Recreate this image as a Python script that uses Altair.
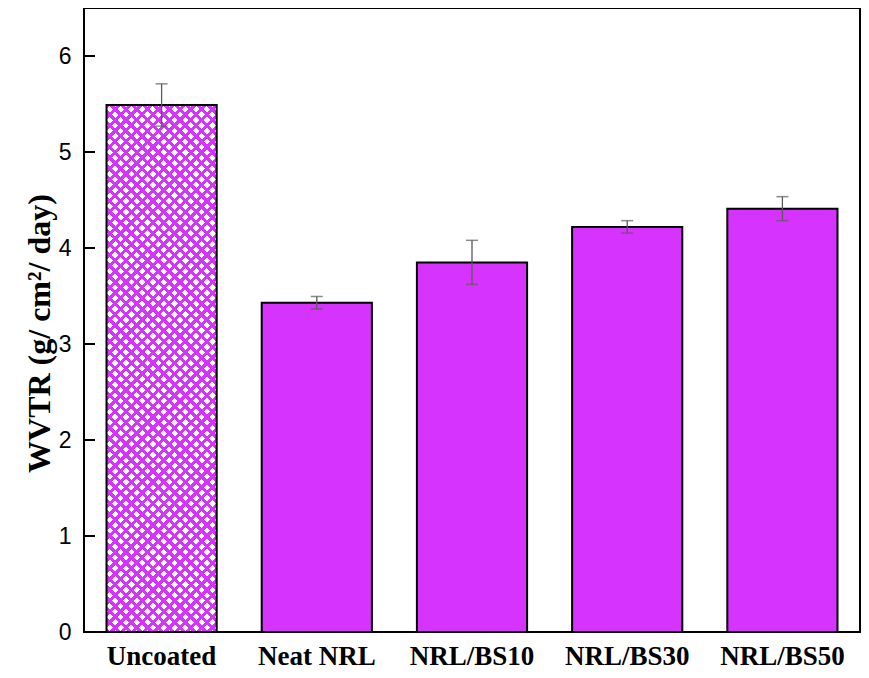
import altair as alt
import pandas as pd

categories = ["Uncoated", "Neat NRL", "NRL/BS10", "NRL/BS30", "NRL/BS50"]
wvtr = [5.49, 3.43, 3.85, 4.22, 4.41]
err = [0.22, 0.065, 0.23, 0.065, 0.125]
y_ticks = [0, 1, 2, 3, 4, 5, 6]

df = pd.DataFrame({"cat": categories, "wvtr": wvtr, "err": err})
df["lo"] = df["wvtr"] - df["err"]
df["hi"] = df["wvtr"] + df["err"]
ticks_df = pd.DataFrame({"v": y_ticks})

W, H = 776, 624
PI, PO = 0.29, 0.145
YMAX = 6.5
MAG = "#D633FF"
CLEAR = "rgba(255,255,255,0)"
YTITLE = "WVTR (g/ cm²/ day)"

# hatch pattern (style) for the uncoated bar, built as striped linear gradients
step = W / (len(categories) - PI + 2 * PO)
bw = step * (1 - PI)
bh = wvtr[0] / YMAX * H
PERIOD = 7.6
FRAC = 0.4


def hatch(direction):
    w, h = bw, bh
    p = w / h
    k = (w + h) * h / (h * h + w * w)
    if direction > 0:
        x1, y1, x2, y2 = 0, 0, p * k, k
    else:
        x1, y1, x2, y2 = 0, 1, p * k, 1 - k
    span = (w + h) / 2 ** 0.5
    n = int(round(span / PERIOD))
    stops = []
    for i in range(n):
        a = i / n
        b = (i + FRAC) / n
        c = (i + 1) / n
        stops += [
            {"offset": a, "color": MAG},
            {"offset": b, "color": MAG},
            {"offset": b, "color": CLEAR},
            {"offset": c, "color": CLEAR},
        ]
    return {"gradient": "linear", "x1": x1, "y1": y1, "x2": x2, "y2": y2, "stops": stops}


xscale = alt.Scale(paddingInner=PI, paddingOuter=PO)
xaxis = alt.Axis(
    title=None,
    labelFont="Liberation Serif",
    labelFontWeight="bold",
    labelFontSize=27,
    labelColor="black",
    labelAngle=0,
    ticks=False,
    domain=False,
    labelPadding=32,
    labelBaseline="alphabetic",
)
yscale = alt.Scale(domain=[0, YMAX], nice=False, zero=True)
yaxis = alt.Axis(
    title=YTITLE,
    values=y_ticks,
    format="d",
    grid=False,
    ticks=False,
    domain=False,
    labelFont="Liberation Sans",
    labelFontSize=23,
    labelColor="black",
    labelPadding=13,
    titleFont="Liberation Serif",
    titleFontWeight="bold",
    titleFontSize=32,
    titleColor="black",
    titleAngle=270,
    titleAlign="center",
    titleBaseline="alphabetic",
    titleX=-35,
    titleY=325,
)


def X():
    return alt.X("cat:N", sort=categories, scale=xscale, axis=xaxis)


base = alt.Chart(df)

bars = base.transform_filter(alt.datum.cat != "Uncoated").mark_bar(
    fill=MAG, stroke="black", strokeWidth=2
).encode(x=X(), y=alt.Y("wvtr:Q", scale=yscale, axis=yaxis, title=YTITLE))

unc = base.transform_filter(alt.datum.cat == "Uncoated")
unc_white = unc.mark_bar(fill="white").encode(
    x=X(), y=alt.Y("wvtr:Q", scale=yscale, title=YTITLE)
)
unc_a = unc.mark_bar(fill=hatch(1)).encode(
    x=X(), y=alt.Y("wvtr:Q", scale=yscale, title=YTITLE)
)
unc_b = unc.mark_bar(fill=hatch(-1)).encode(
    x=X(), y=alt.Y("wvtr:Q", scale=yscale, title=YTITLE)
)
unc_edge = unc.mark_bar(fillOpacity=0, stroke="black", strokeWidth=2).encode(
    x=X(), y=alt.Y("wvtr:Q", scale=yscale, title=YTITLE)
)

ecolor = "#5a5a5a"
err_rule = base.mark_rule(color=ecolor, strokeWidth=1.3).encode(
    x=X(), y=alt.Y("lo:Q", scale=yscale, title=YTITLE), y2="hi:Q"
)
cap_lo = base.mark_tick(color=ecolor, thickness=1.5, size=12).encode(
    x=X(), y=alt.Y("lo:Q", scale=yscale, title=YTITLE)
)
cap_hi = base.mark_tick(color=ecolor, thickness=1.5, size=12).encode(
    x=X(), y=alt.Y("hi:Q", scale=yscale, title=YTITLE)
)

yticks = alt.Chart(ticks_df).mark_rule(color="black", strokeWidth=2).encode(
    y=alt.Y("v:Q", scale=yscale, title=YTITLE),
    x=alt.value(0),
    x2=alt.value(11),
)

chart = alt.layer(
    bars, unc_white, unc_a, unc_b, unc_edge, err_rule, cap_lo, cap_hi, yticks
).properties(
    width=W,
    height=H,
    padding={"left": 76, "top": 0, "right": 1, "bottom": 38},
    autosize=alt.AutoSizeParams(type="none"),
    background="white",
).configure_view(
    stroke="black", strokeWidth=2
)

chart.save("out.html", embed_options={"renderer": "svg", "actions": False})
